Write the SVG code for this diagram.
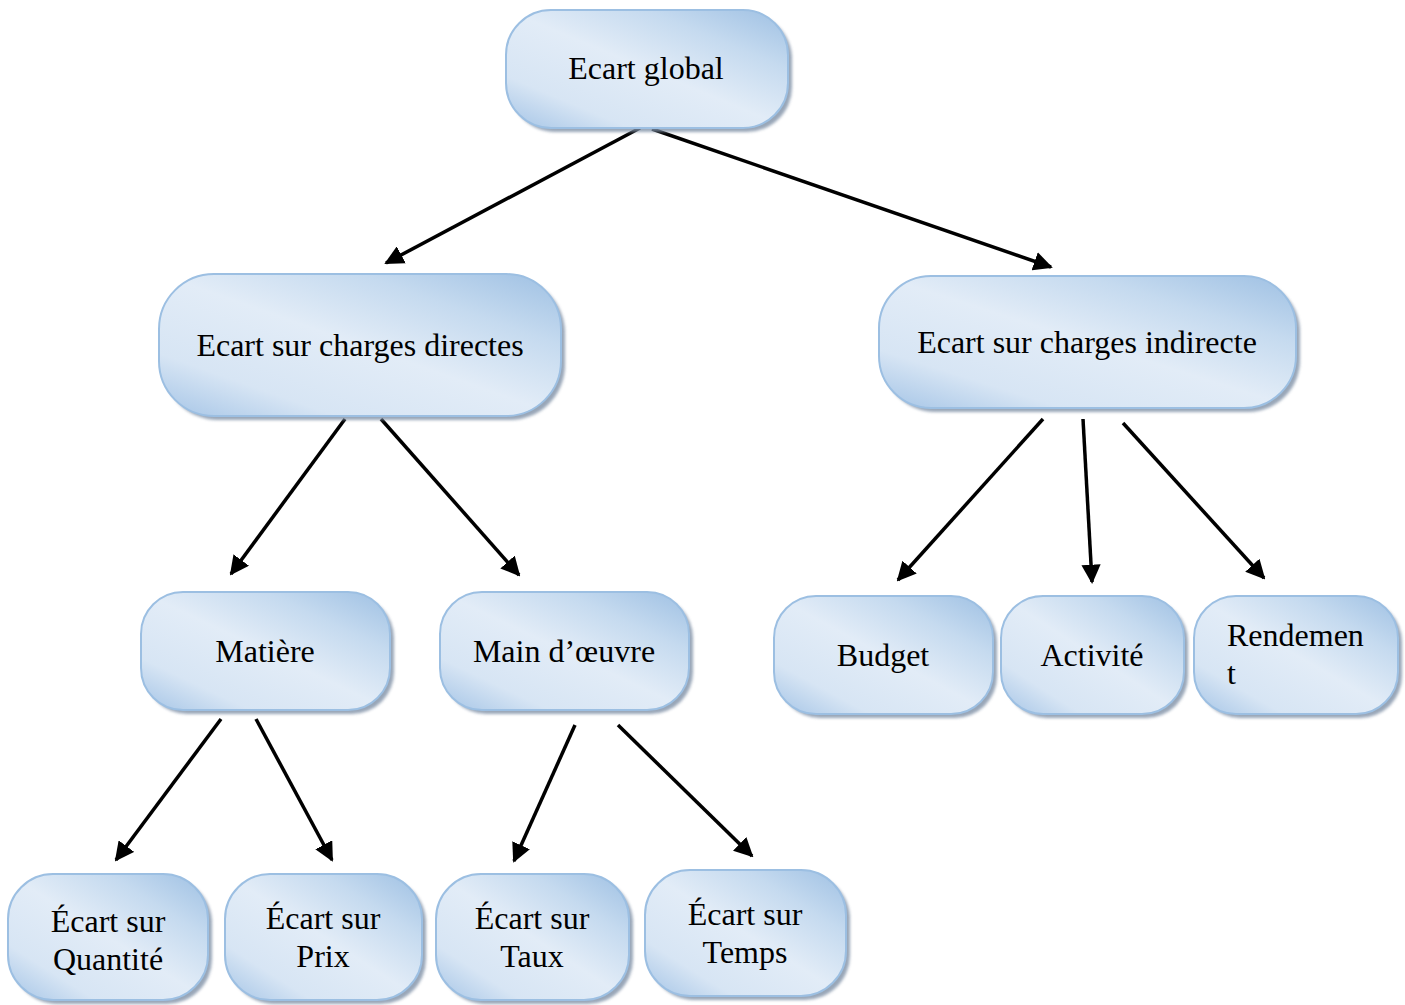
<svg xmlns="http://www.w3.org/2000/svg" width="1405" height="1005" viewBox="0 0 1405 1005">
<style>
.n{fill:url(#g);stroke:#9cbfe2;stroke-width:2}
.sh{fill:#7f90a6;opacity:0.8;filter:url(#b)}
.t{font-family:"Liberation Serif","Times New Roman",serif;font-size:32px;fill:#000}
.c{text-anchor:middle}
.e{stroke:#000;stroke-width:3.5;fill:none;marker-end:url(#a)}
</style>
<defs>
<linearGradient id="g" x1="0" y1="1" x2="1" y2="0">
<stop offset="0" stop-color="#a4c4e6"/>
<stop offset="0.22" stop-color="#d7e5f4"/>
<stop offset="0.5" stop-color="#e2ecf7"/>
<stop offset="0.75" stop-color="#c5daef"/>
<stop offset="1" stop-color="#9ec0e3"/>
</linearGradient>
<filter id="b" x="-10%" y="-10%" width="120%" height="130%"><feGaussianBlur stdDeviation="1.5"/></filter>
<marker id="a" viewBox="0 0 10 10" refX="9" refY="5" markerWidth="5.5" markerHeight="5.5" orient="auto" markerUnits="strokeWidth">
<path d="M0,0 L10,5 L0,10 z" fill="#000"/>
</marker>
</defs>
<g id="connectors">
<line class="e" x1="640" y1="128" x2="386" y2="263"/>
<line class="e" x1="652" y1="129" x2="1051" y2="267"/>
<line class="e" x1="345" y1="419" x2="231" y2="574"/>
<line class="e" x1="381" y1="419" x2="519" y2="575"/>
<line class="e" x1="1043" y1="419" x2="898" y2="580"/>
<line class="e" x1="1083" y1="419" x2="1092" y2="582"/>
<line class="e" x1="1123" y1="423" x2="1264" y2="578"/>
<line class="e" x1="221" y1="719" x2="116" y2="860"/>
<line class="e" x1="256" y1="719" x2="332" y2="860"/>
<line class="e" x1="575" y1="725" x2="514" y2="861"/>
<line class="e" x1="618" y1="725" x2="752" y2="856"/>
</g>
<g id="n1"><rect class="sh" x="510" y="14" width="282" height="118" rx="45"/><rect class="n" x="506" y="10" width="282" height="118" rx="45"/><text class="t c" x="646" y="79">Ecart global</text></g>
<g id="n2"><rect class="sh" x="163" y="278" width="402" height="142" rx="55"/><rect class="n" x="159" y="274" width="402" height="142" rx="55"/><text class="t c" x="360" y="356">Ecart sur charges directes</text></g>
<g id="n3"><rect class="sh" x="883" y="280" width="417" height="132" rx="52"/><rect class="n" x="879" y="276" width="417" height="132" rx="52"/><text class="t c" x="1087" y="353">Ecart sur charges indirecte</text></g>
<g id="n4"><rect class="sh" x="145" y="596" width="249" height="118" rx="42"/><rect class="n" x="141" y="592" width="249" height="118" rx="42"/><text class="t c" x="265" y="662">Matière</text></g>
<g id="n5"><rect class="sh" x="444" y="596" width="249" height="118" rx="42"/><rect class="n" x="440" y="592" width="249" height="118" rx="42"/><text class="t c" x="564" y="662">Main d’œuvre</text></g>
<g id="n6"><rect class="sh" x="778" y="600" width="219" height="118" rx="42"/><rect class="n" x="774" y="596" width="219" height="118" rx="42"/><text class="t c" x="883" y="666">Budget</text></g>
<g id="n7"><rect class="sh" x="1005" y="600" width="183" height="118" rx="42"/><rect class="n" x="1001" y="596" width="183" height="118" rx="42"/><text class="t c" x="1092" y="666">Activité</text></g>
<g id="n8"><rect class="sh" x="1198" y="600" width="204" height="118" rx="42"/><rect class="n" x="1194" y="596" width="204" height="118" rx="42"/><text class="t" x="1227" y="646">Rendemen</text><text class="t" x="1227" y="684">t</text></g>
<g id="n9"><rect class="sh" x="12" y="878" width="200" height="126" rx="45"/><rect class="n" x="8" y="874" width="200" height="126" rx="45"/><text class="t c" x="108" y="932">Écart sur</text><text class="t c" x="108" y="970">Quantité</text></g>
<g id="n10"><rect class="sh" x="229" y="878" width="197" height="126" rx="45"/><rect class="n" x="225" y="874" width="197" height="126" rx="45"/><text class="t c" x="323" y="929">Écart sur</text><text class="t c" x="323" y="967">Prix</text></g>
<g id="n11"><rect class="sh" x="440" y="878" width="193" height="126" rx="45"/><rect class="n" x="436" y="874" width="193" height="126" rx="45"/><text class="t c" x="532" y="929">Écart sur</text><text class="t c" x="532" y="967">Taux</text></g>
<g id="n12"><rect class="sh" x="649" y="874" width="201" height="126" rx="45"/><rect class="n" x="645" y="870" width="201" height="126" rx="45"/><text class="t c" x="745" y="925">Écart sur</text><text class="t c" x="745" y="963">Temps</text></g>
</svg>
